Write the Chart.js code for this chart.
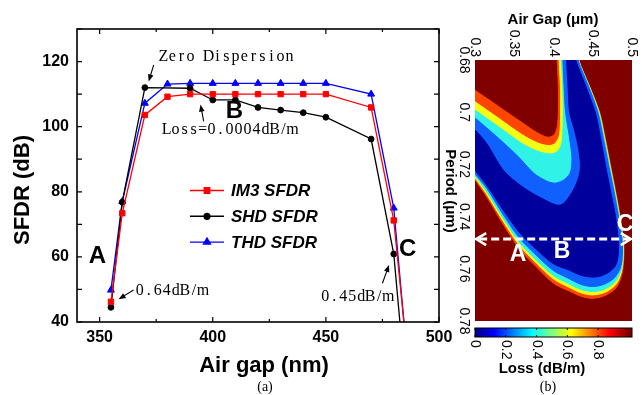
<!DOCTYPE html>
<html>
<head>
<meta charset="utf-8">
<script src="https://cdn.jsdelivr.net/npm/chart.js@4.4.0/dist/chart.umd.min.js"></script>
<style>
  html, body { margin: 0; padding: 0; background: #fff; }
  #wrap { position: relative; width: 642px; height: 395px; }
  canvas { position: absolute; left: 0; top: 0; }
</style>
</head>
<body>
<div id="wrap">
  <canvas id="sfdrChart" width="642" height="395" style="width:642px;height:395px"></canvas>
  <canvas id="lossMap" width="642" height="395" style="width:642px;height:395px"></canvas>
</div>
<script>
// ---- (a) SFDR vs air gap ----
const airGap = [355, 360, 370, 380, 390, 400, 410, 420, 430, 440, 450, 470, 480, 490];
const im3Sfdr = [46.2, 73.4, 103.6, 109.2, 110, 110, 110, 110, 110, 110, 110, 105.9, 71.2, 2];
const shdSfdr = [44.5, 76.8, 112, null, 111.8, 108.2, 108.2, 105.9, 105.1, 104.3, 102.9, 96.2, 60.9, -16];
const thdSfdr = [49.8, 77, 107.2, 113.1, 113.3, 113.3, 113.3, 113.3, 113.3, 113.3, 113.3, 110, 75, -3];
const xTicks = [350, 400, 450, 500];
const yTicks = [40, 60, 80, 100, 120];

// annotations (data coordinates)
const notes = [
  { text: "Zero Dispersion", x: 376.2, y: 121.4, width: 135 },
  { text: "Loss=0.0004dB/m", x: 377.6, y: 99.1, width: 135 },
  { text: "0.64dB/m", x: 365.8, y: 49.6, width: 72 },
  { text: "0.45dB/m", x: 447.7, y: 47.7, width: 72 },
];
const arrows = [
  { from: [373.9, 119.0], to: [371.7, 113.9] },
  { from: [396.0, 101.6], to: [394.6, 106.8] },
  { from: [365.0, 49.85], to: [358.4, 47.0] },
  { from: [475.0, 51.9], to: [477.9, 57.5] },
];
const pointLabels = [
  { text: "A", x: 349.0, y: 60.3 },
  { text: "B", x: 409.6, y: 104.6 },
  { text: "C", x: 486.2, y: 62.2 },
];

// ---- (b) loss map (air gap um, period um) ----
const mapXTicks = [0.3, 0.35, 0.4, 0.45, 0.5];
const mapYTicks = [0.68, 0.7, 0.72, 0.74, 0.76, 0.78];
const barTicks = [0, 0.2, 0.4, 0.6, 0.8];

// upper-left contour arms (left edge -> top edge)
const u1 = [[0.29,0.6895],[0.3,0.6916],[0.33,0.6978],[0.36,0.704],[0.38,0.708],[0.393,0.7096],[0.401,0.7086],[0.4048,0.7055],[0.4061,0.7],[0.4061,0.69],[0.4048,0.68],[0.4042,0.674]];
const u2 = [[0.29,0.6939],[0.3,0.696],[0.33,0.7023],[0.36,0.7086],[0.38,0.7118],[0.395,0.7128],[0.403,0.7117],[0.4078,0.7085],[0.409,0.7],[0.4088,0.69],[0.4072,0.68],[0.4066,0.674]];
const u3 = [[0.29,0.6971],[0.3,0.6992],[0.33,0.7056],[0.36,0.712],[0.38,0.715],[0.397,0.716],[0.406,0.7148],[0.411,0.7112],[0.4125,0.7],[0.4118,0.69],[0.4102,0.68],[0.4097,0.674]];
const u4 = [[0.29,0.7],[0.3,0.7022],[0.33,0.71],[0.355,0.717],[0.375,0.7234],[0.39,0.7262],[0.401,0.7272],[0.412,0.7262],[0.421,0.7234],[0.4235,0.718],[0.4205,0.71],[0.4154,0.7],[0.4135,0.69],[0.412,0.68],[0.4115,0.674]];
const u5 = [[0.29,0.704],[0.3,0.7068],[0.315,0.712],[0.336,0.7222],[0.36,0.7285],[0.385,0.733],[0.4086,0.7356],[0.425,0.73],[0.434,0.7222],[0.432,0.714],[0.426,0.706],[0.4205,0.7],[0.4185,0.69],[0.4167,0.68],[0.416,0.674]];
// right / lower contour arms (top edge -> right -> bottom -> left edge)
const r1 = [[0.4295,0.674],[0.4323,0.68],[0.446,0.69],[0.4588,0.7],[0.466,0.71],[0.4725,0.72],[0.479,0.73],[0.485,0.74],[0.4895,0.75],[0.4893,0.757],[0.4868,0.7625],[0.48,0.7672],[0.466,0.7702],[0.45,0.7713],[0.435,0.7705],[0.42,0.7685],[0.4,0.7655],[0.378,0.7592],[0.357,0.7525],[0.336,0.743],[0.315,0.7325],[0.3,0.7258],[0.29,0.7215]];
const r2 = [[0.429,0.674],[0.4319,0.68],[0.4455,0.69],[0.4581,0.7],[0.4653,0.71],[0.4718,0.72],[0.4783,0.73],[0.4843,0.74],[0.4888,0.75],[0.4886,0.757],[0.486,0.7618],[0.4792,0.7661],[0.4655,0.769],[0.45,0.77],[0.435,0.7692],[0.42,0.7671],[0.4,0.7639],[0.378,0.7578],[0.357,0.7512],[0.336,0.7418],[0.315,0.7315],[0.3,0.7251],[0.29,0.7208]];
const r3 = [[0.4287,0.674],[0.4316,0.68],[0.445,0.69],[0.4573,0.7],[0.4645,0.71],[0.471,0.72],[0.4776,0.73],[0.4836,0.74],[0.4882,0.75],[0.4879,0.757],[0.4852,0.7612],[0.4783,0.765],[0.465,0.7678],[0.45,0.7687],[0.435,0.7679],[0.42,0.7658],[0.4,0.7626],[0.378,0.7566],[0.357,0.75],[0.336,0.7407],[0.315,0.7305],[0.3,0.7243],[0.29,0.72]];
const r4 = [[0.4283,0.674],[0.4312,0.68],[0.4445,0.69],[0.4565,0.7],[0.4635,0.71],[0.47,0.72],[0.4768,0.73],[0.4828,0.74],[0.4876,0.75],[0.4871,0.757],[0.4842,0.7604],[0.4772,0.7636],[0.464,0.766],[0.45,0.7668],[0.435,0.766],[0.42,0.7638],[0.4,0.7607],[0.378,0.7548],[0.357,0.7484],[0.336,0.7393],[0.315,0.7292],[0.3,0.7236],[0.29,0.7193]];
const r5 = [[0.4255,0.674],[0.4285,0.68],[0.441,0.69],[0.4531,0.7],[0.46,0.71],[0.466,0.72],[0.4725,0.73],[0.479,0.74],[0.4828,0.75],[0.4818,0.756],[0.4785,0.759],[0.471,0.7612],[0.46,0.7628],[0.45,0.7632],[0.435,0.7625],[0.42,0.7605],[0.4,0.7581],[0.378,0.7525],[0.357,0.7462],[0.336,0.7375],[0.315,0.728],[0.3,0.7222],[0.29,0.718]];
const levelBounds = [[u5, r5], [u4, r4], [u3, r3], [u2, r2], [u1, r1]];
const levelColors = ["#00009c", "#1060ff", "#30f2e6", "#f2ff14", "#ff4600"];
const jetStops = [[0, "#000080"], [0.125, "#0000ff"], [0.375, "#00ffff"], [0.625, "#ffff00"], [0.875, "#ff0000"], [1, "#800000"]];
const barMax = 1.02;
const mapArrow = { y: 0.7486, x1: 0.3015, x2: 0.4985 };
const mapLabels = [
  { text: "A", x: 0.3548, y: 0.7547 },
  { text: "B", x: 0.4108, y: 0.7536 },
  { text: "C", x: 0.4913, y: 0.7432 },
];

const sans = "'Liberation Sans', Arial, sans-serif";
const serif = "'Liberation Serif', 'Times New Roman', serif";

function drawArrow(ctx, x1, y1, x2, y2) {
  const a = Math.atan2(y2 - y1, x2 - x1);
  const len = 7, half = 2.8;
  ctx.beginPath();
  ctx.moveTo(x1, y1);
  ctx.lineTo(x2 - Math.cos(a) * len * 0.7, y2 - Math.sin(a) * len * 0.7);
  ctx.stroke();
  ctx.beginPath();
  ctx.moveTo(x2, y2);
  ctx.lineTo(x2 - len * Math.cos(a) + half * Math.sin(a), y2 - len * Math.sin(a) - half * Math.cos(a));
  ctx.lineTo(x2 - len * Math.cos(a) - half * Math.sin(a), y2 - len * Math.sin(a) + half * Math.cos(a));
  ctx.closePath();
  ctx.fill();
}

function monoText(ctx, text, x, y, width) {
  const step = width / text.length;
  ctx.textAlign = "center";
  for (let i = 0; i < text.length; i++) {
    ctx.fillText(text[i], x + step * (i + 0.5), y);
  }
}

// Left chart decorations: frame, inward ticks, titles, legend, notes
const sfdrDecor = {
  id: "sfdrDecor",
  afterDraw(chart) {
    const { ctx, chartArea: a, scales: { x, y } } = chart;
    ctx.save();
    ctx.strokeStyle = "#000";
    ctx.fillStyle = "#000";
    ctx.lineWidth = 1.2;
    for (let v = 350; v <= 500; v += 25) {
      const px = x.getPixelForValue(v);
      const len = v % 50 === 0 ? 5 : 3;
      ctx.beginPath();
      ctx.moveTo(px, a.bottom); ctx.lineTo(px, a.bottom - len);
      ctx.moveTo(px, a.top); ctx.lineTo(px, a.top + len);
      ctx.stroke();
    }
    for (let v = 40; v <= 130; v += 10) {
      const py = y.getPixelForValue(v);
      ctx.beginPath();
      ctx.moveTo(a.left, py); ctx.lineTo(a.left + 5, py);
      ctx.moveTo(a.right, py); ctx.lineTo(a.right - 5, py);
      ctx.stroke();
    }
    ctx.lineWidth = 1.6;
    ctx.strokeRect(a.left, a.top, a.right - a.left, a.bottom - a.top);

    // axis titles
    ctx.font = "bold 22px " + sans;
    ctx.textAlign = "center";
    ctx.textBaseline = "middle";
    ctx.fillText("Air gap (nm)", 264, 366);
    ctx.save();
    ctx.translate(23, 190);
    ctx.rotate(-Math.PI / 2);
    ctx.fillText("SFDR (dB)", 0, 0);
    ctx.restore();
    ctx.font = "14px " + serif;
    ctx.fillText("(a)", 265, 387);

    // legend
    chart.data.datasets.forEach((ds, i) => {
      const ly = 190.5 + i * 25.8;
      ctx.strokeStyle = ds.borderColor;
      ctx.fillStyle = ds.borderColor;
      ctx.lineWidth = 1.4;
      ctx.beginPath(); ctx.moveTo(190, ly); ctx.lineTo(224, ly); ctx.stroke();
      Chart.helpers.drawPoint(ctx, { pointStyle: ds.pointStyle, radius: ds.pointRadius, borderWidth: 1, rotation: 0 }, 207, ly);
      ctx.fillStyle = "#000";
      ctx.font = "italic bold 17px " + sans;
      ctx.textAlign = "left";
      ctx.fillText(ds.label, 231, ly + 1);
    });

    // notes
    ctx.fillStyle = "#000";
    ctx.strokeStyle = "#000";
    ctx.font = "16px " + serif;
    notes.forEach(n => monoText(ctx, n.text, x.getPixelForValue(n.x), y.getPixelForValue(n.y), n.width));
    ctx.lineWidth = 1.1;
    arrows.forEach(r => drawArrow(ctx,
      x.getPixelForValue(r.from[0]), y.getPixelForValue(r.from[1]),
      x.getPixelForValue(r.to[0]), y.getPixelForValue(r.to[1])));
    ctx.font = "bold 24px " + sans;
    ctx.textAlign = "center";
    pointLabels.forEach(p => ctx.fillText(p.text, x.getPixelForValue(p.x), y.getPixelForValue(p.y)));
    ctx.restore();
  },
};

const pts = (vals) => airGap.map((g, i) => ({ x: g, y: vals[i] }));

const ctxSfdr = document.getElementById("sfdrChart").getContext("2d");
new Chart(ctxSfdr, {
  type: "line",
  data: {
    datasets: [
      { label: "IM3 SFDR", data: pts(im3Sfdr), borderColor: "#ff0000", backgroundColor: "#ff0000", pointStyle: "rect", pointRadius: 3.8 },
      { label: "SHD SFDR", data: pts(shdSfdr), borderColor: "#000000", backgroundColor: "#000000", pointStyle: "circle", pointRadius: 2.9 },
      { label: "THD SFDR", data: pts(thdSfdr), borderColor: "#0000ff", backgroundColor: "#0000ff", pointStyle: "triangle", pointRadius: 4 },
    ].map(d => Object.assign(d, { borderWidth: 1.3, tension: 0, spanGaps: true, pointBorderWidth: 1, fill: false })),
  },
  options: {
    responsive: false,
    animation: false,
    layout: { padding: { left: 0, right: 203, top: 29, bottom: 0 } },
    plugins: { legend: { display: false }, tooltip: { enabled: false } },
    scales: {
      x: {
        type: "linear", min: 340, max: 500,
        afterBuildTicks: s => { s.ticks = xTicks.map(v => ({ value: v })); },
        afterFit: s => { s.height = 73; },
        grid: { display: false, drawTicks: false },
        border: { display: false },
        ticks: { padding: 6, color: "#000", font: { family: sans, size: 16, weight: "bold" } },
      },
      y: {
        type: "linear", min: 40, max: 130,
        afterBuildTicks: s => { s.ticks = yTicks.map(v => ({ value: v })); },
        afterFit: s => { s.width = 77; },
        grid: { display: false, drawTicks: false },
        border: { display: false },
        ticks: { padding: 8, color: "#000", font: { family: sans, size: 16, weight: "bold" } },
      },
    },
  },
  plugins: [sfdrDecor],
});

// Right panel decorations
const mapDecor = {
  id: "mapDecor",
  beforeDatasetsDraw(chart) {
    const { ctx, chartArea: a } = chart;
    ctx.save();
    ctx.fillStyle = "#800000";
    ctx.fillRect(a.left, a.top, a.right - a.left, a.bottom - a.top);
    ctx.restore();
  },
  afterDraw(chart) {
    const { ctx, chartArea: a, scales: { x, y } } = chart;
    ctx.save();
    // white dashed double arrow
    const ay = y.getPixelForValue(mapArrow.y);
    const ax1 = x.getPixelForValue(mapArrow.x1), ax2 = x.getPixelForValue(mapArrow.x2);
    ctx.strokeStyle = "#fff";
    ctx.lineWidth = 3;
    ctx.setLineDash([8, 4]);
    ctx.beginPath(); ctx.moveTo(ax1 + 3, ay); ctx.lineTo(ax2 - 3, ay); ctx.stroke();
    ctx.setLineDash([]);
    ctx.lineWidth = 2.6;
    ctx.beginPath();
    ctx.moveTo(ax1 + 10, ay - 6); ctx.lineTo(ax1, ay); ctx.lineTo(ax1 + 10, ay + 6);
    ctx.moveTo(ax2 - 10, ay - 6); ctx.lineTo(ax2, ay); ctx.lineTo(ax2 - 10, ay + 6);
    ctx.stroke();
    ctx.fillStyle = "#fff";
    ctx.font = "bold 23px " + sans;
    ctx.textAlign = "center";
    ctx.textBaseline = "middle";
    mapLabels.forEach(p => ctx.fillText(p.text, x.getPixelForValue(p.x), y.getPixelForValue(p.y)));

    // tick labels (rotated clockwise)
    ctx.fillStyle = "#000";
    ctx.font = "14px " + sans;
    mapXTicks.forEach(v => {
      ctx.save();
      ctx.translate(x.getPixelForValue(v), a.top - 3);
      ctx.rotate(Math.PI / 2);
      ctx.textAlign = "right";
      ctx.fillText(String(v), 0, 0);
      ctx.restore();
    });
    mapYTicks.forEach(v => {
      ctx.save();
      ctx.translate(a.left - 11, y.getPixelForValue(v));
      ctx.rotate(Math.PI / 2);
      ctx.textAlign = "center";
      ctx.fillText(String(v), 0, 0);
      ctx.restore();
    });
    ctx.font = "bold 15px " + sans;
    ctx.fillText("Air Gap (\u03bcm)", 553, 20);
    ctx.save();
    ctx.translate(450, 191);
    ctx.rotate(Math.PI / 2);
    ctx.fillText("Period (\u03bcm)", 0, 0);
    ctx.restore();

    // colorbar
    const cbTop = a.bottom + 7, cbH = 9;
    const grad = ctx.createLinearGradient(a.left, 0, a.right, 0);
    jetStops.forEach(([v, c]) => grad.addColorStop(v / barMax, c));
    ctx.fillStyle = grad;
    ctx.fillRect(a.left, cbTop, a.right - a.left, cbH);
    ctx.strokeStyle = "#000";
    ctx.lineWidth = 1;
    ctx.strokeRect(a.left, cbTop, a.right - a.left, cbH);
    ctx.fillStyle = "#000";
    ctx.font = "14px " + sans;
    barTicks.forEach(v => {
      const px = a.left + (v / barMax) * (a.right - a.left);
      ctx.beginPath();
      ctx.moveTo(px, cbTop); ctx.lineTo(px, cbTop + 2);
      ctx.moveTo(px, cbTop + cbH); ctx.lineTo(px, cbTop + cbH - 2);
      ctx.stroke();
      ctx.save();
      ctx.translate(px, cbTop + cbH + 3);
      ctx.rotate(Math.PI / 2);
      ctx.textAlign = "left";
      ctx.fillText(String(v), 0, 0);
      ctx.restore();
    });
    ctx.font = "bold 15px " + sans;
    ctx.textAlign = "center";
    ctx.fillText("Loss (dB/m)", 542, 369);
    ctx.font = "14px " + serif;
    ctx.fillText("(b)", 548, 387);
    ctx.restore();
  },
};

const toPts = arr => arr.map(([px, py]) => ({ x: px, y: py }));
const edgeColor = (lo, hi) => c => (c.tick && (c.tick.value <= lo + 1e-9 || c.tick.value >= hi - 1e-9)) ? "rgba(0,0,0,0)" : "#000";

const ctxMap = document.getElementById("lossMap").getContext("2d");
new Chart(ctxMap, {
  type: "scatter",
  data: {
    datasets: levelBounds.map(([u, r], i) => ({
      data: toPts(u.concat(r)),
      showLine: true,
      fill: "shape",
      backgroundColor: levelColors[i],
      borderColor: levelColors[i],
      borderWidth: 1,
      pointRadius: 0,
      tension: 0.3,
    })),
  },
  options: {
    responsive: false,
    animation: false,
    layout: { padding: { left: 475, right: 10, top: 60, bottom: 74 } },
    plugins: { legend: { display: false }, tooltip: { enabled: false } },
    scales: {
      x: {
        type: "linear", position: "top", min: 0.3, max: 0.5, z: 1,
        afterBuildTicks: s => { s.ticks = mapXTicks.map(v => ({ value: v })); },
        afterFit: s => { s.height = 0; },
        ticks: { display: false },
        grid: { drawTicks: false, color: edgeColor(0.3, 0.5), lineWidth: 0.9 },
        border: { display: false, dash: [3, 3] },
      },
      y: {
        type: "linear", reverse: true, min: 0.68, max: 0.78, z: 1,
        afterBuildTicks: s => { s.ticks = mapYTicks.map(v => ({ value: v })); },
        afterFit: s => { s.width = 0; },
        ticks: { display: false },
        grid: { drawTicks: false, color: edgeColor(0.68, 0.78), lineWidth: 0.9 },
        border: { display: false, dash: [3, 3] },
      },
    },
  },
  plugins: [mapDecor],
});
</script>
</body>
</html>
